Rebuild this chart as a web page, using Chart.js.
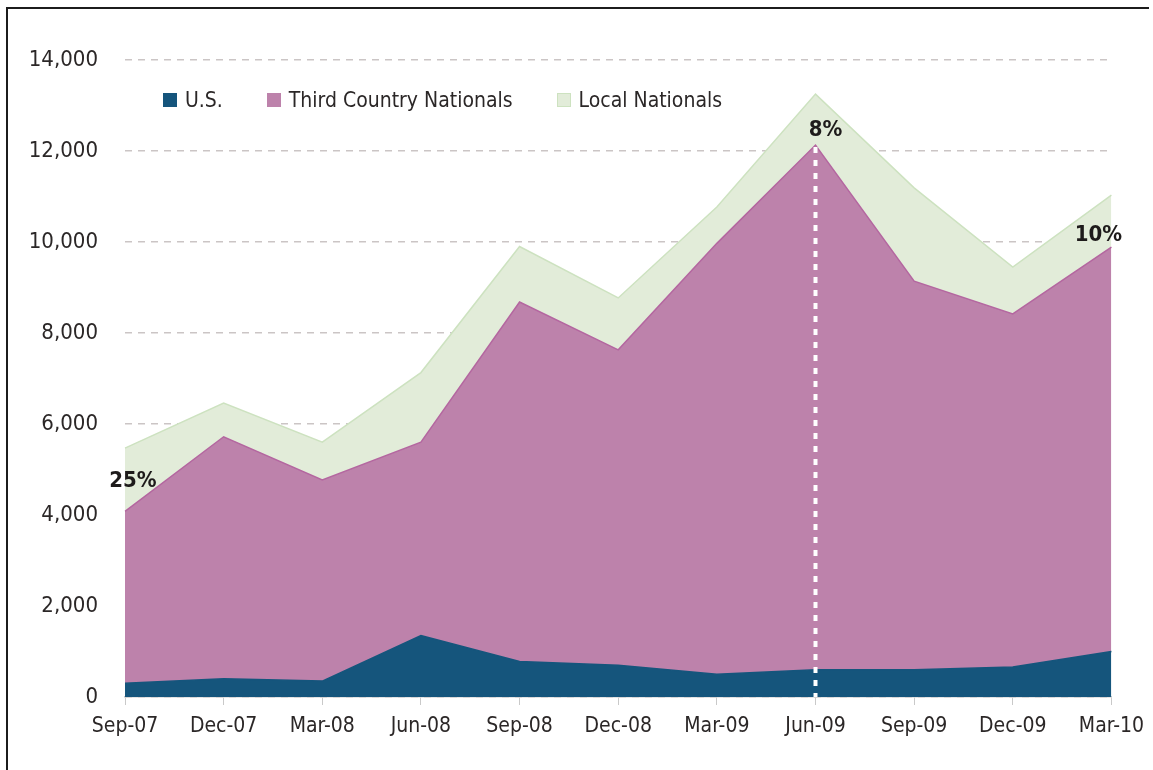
<!DOCTYPE html>
<html>
<head>
<meta charset="utf-8">
<script src="https://cdn.jsdelivr.net/npm/chart.js@4.4.0/dist/chart.umd.min.js"></script>
<style>
  html, body { margin: 0; padding: 0; background: #fff; }
  .wrap { position: relative; width: 1153px; height: 770px; }
  .frame { position: absolute; left: 6px; top: 7px; width: 1141px; height: 770px;
           border-left: 2px solid #1c1c1c; border-top: 2px solid #1c1c1c; pointer-events: none; }
  .legend { position: absolute; left: 163px; top: 88px; display: flex; align-items: center;
            font-family: "DejaVu Sans Condensed", sans-serif;
            font-size: 21px; color: #2b2727; }
  .legend span.item { display: flex; align-items: center; margin-right: 44px; }
  .legend i { display: inline-block; width: 14px; height: 14px; margin-right: 8px; }
</style>
</head>
<body>
<div class="wrap">
  <canvas id="myChart" width="1153" height="770"></canvas>
  <div class="frame"></div>
  <div class="legend" id="legend"></div>
</div>
<script>
const categories = ['Sep-07', 'Dec-07', 'Mar-08', 'Jun-08', 'Sep-08', 'Dec-08', 'Mar-09', 'Jun-09', 'Sep-09', 'Dec-09', 'Mar-10'];
const usValues = [300, 400, 350, 1350, 780, 700, 500, 600, 600, 660, 1000];
const tcnValues = [3780, 5320, 4420, 4250, 7900, 6930, 9470, 11530, 8540, 7760, 8890];
const localValues = [1390, 740, 830, 1530, 1220, 1140, 800, 1120, 2050, 1030, 1140];
const yTicks = [0, 2000, 4000, 6000, 8000, 10000, 12000, 14000];
// percentage callouts: [category index, text, x offset, y offset above purple top]
const callouts = [[0, '25%', 8, 30], [7, '8%', 10, 15], [10, '10%', -13, 12]];

const fontName = '"DejaVu Sans Condensed", sans-serif';
const textColor = '#2b2727';

const series = [
  { label: 'U.S.', data: usValues, fill: 'origin', bg: '#15557c', line: '#15557c' },
  { label: 'Third Country Nationals', data: tcnValues, fill: '-1', bg: '#bd82ab', line: '#b467a0' },
  { label: 'Local Nationals', data: localValues, fill: '-1', bg: '#e2ecd9', line: '#cde2c0' }
];

// html legend
const legendEl = document.getElementById('legend');
series.forEach(function(s) {
  const item = document.createElement('span');
  item.className = 'item';
  const box = document.createElement('i');
  box.style.background = s.bg;
  if (s.label === 'Local Nationals') box.style.boxShadow = 'inset 0 0 0 1px #cde2c0';
  item.appendChild(box);
  item.appendChild(document.createTextNode(s.label));
  legendEl.appendChild(item);
});

const calloutPlugin = {
  id: 'callouts',
  afterDatasetsDraw(chart) {
    const ctx = chart.ctx;
    const x = chart.scales.x;
    const y = chart.scales.y;
    // dotted white marker at Jun-09
    const i = 7;
    const px = x.getPixelForValue(i);
    const topPx = y.getPixelForValue(usValues[i] + tcnValues[i]);
    ctx.save();
    ctx.strokeStyle = '#ffffff';
    ctx.lineWidth = 4;
    ctx.setLineDash([6, 7]);
    ctx.beginPath();
    ctx.moveTo(px, topPx + 2);
    ctx.lineTo(px, y.getPixelForValue(0));
    ctx.stroke();
    ctx.setLineDash([]);
    ctx.fillStyle = '#1e1b1b';
    ctx.font = 'bold 22px ' + fontName;
    ctx.textAlign = 'center';
    ctx.textBaseline = 'middle';
    callouts.forEach(function(c) {
      const cx = x.getPixelForValue(c[0]) + c[2];
      const cy = y.getPixelForValue(usValues[c[0]] + tcnValues[c[0]]) - c[3];
      ctx.fillText(c[1], cx, cy);
    });
    ctx.restore();
  }
};

const ctx = document.getElementById('myChart').getContext('2d');
const chart = new Chart(ctx, { // eslint-disable-line
  type: 'line',
  data: {
    labels: categories,
    datasets: series.map(function(s) {
      return {
        label: s.label,
        data: s.data,
        fill: s.fill,
        backgroundColor: s.bg,
        borderColor: s.line,
        borderWidth: 1.5,
        pointRadius: 0,
        tension: 0
      };
    })
  },
  options: {
    responsive: false,
    animation: false,
    layout: { padding: { top: 60, right: 41, left: 0, bottom: 0 } },
    plugins: {
      legend: { display: false },
      tooltip: { enabled: false }
    },
    scales: {
      x: {
        offset: false,
        afterFit: function(scale) { scale.height = 73; },
        grid: { drawOnChartArea: false, drawTicks: true, tickLength: 8, color: '#c9c9c9' },
        border: { color: '#c9c9c9', width: 1.5 },
        ticks: { color: textColor, padding: 9, maxRotation: 0, autoSkip: false,
                 font: { family: fontName, size: 21 } }
      },
      y: {
        stacked: true,
        min: 0,
        max: 14000,
        afterFit: function(scale) { scale.width = 125; },
        afterBuildTicks: function(scale) { scale.ticks = yTicks.map(function(v) { return { value: v }; }); },
        grid: { drawTicks: false, color: '#cbc5c5', lineWidth: 1.5 },
        border: { display: false, dash: [7, 6] },
        ticks: {
          color: textColor,
          padding: 27,
          font: { family: fontName, size: 22 },
          callback: function(v) { return v.toLocaleString('en-US'); }
        }
      }
    }
  },
  plugins: [calloutPlugin]
});
</script>
</body>
</html>
